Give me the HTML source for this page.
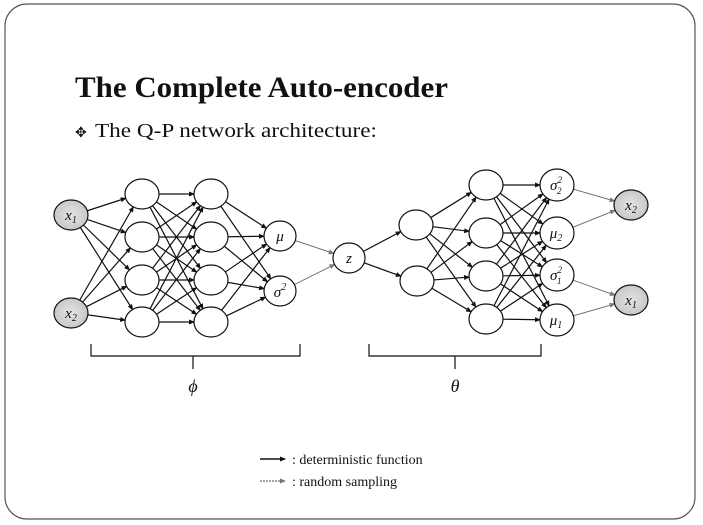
<!DOCTYPE html>
<html><head><meta charset="utf-8"><style>
html,body{margin:0;padding:0;background:#fff}
svg{display:block}
text{font-family:"Liberation Serif",serif;fill:#111}
</style></head><body>
<svg id="s" width="703" height="525" viewBox="0 0 703 525" xmlns="http://www.w3.org/2000/svg">
<defs>
<marker id="a" markerWidth="6" markerHeight="6" refX="5" refY="3" orient="auto" markerUnits="userSpaceOnUse"><path d="M0,0.5 L6,3 L0,5.5z" fill="#111"/></marker>
<marker id="b" markerWidth="6" markerHeight="6" refX="5" refY="3" orient="auto" markerUnits="userSpaceOnUse"><path d="M0,0.5 L6,3 L0,5.5z" fill="#777"/></marker>
<radialGradient id="g"><stop offset="0" stop-color="#e4e4e4"/><stop offset="1" stop-color="#c8c8c8"/></radialGradient>
</defs>
<rect x="5" y="4" width="690" height="515" rx="22" fill="none" stroke="#555" stroke-width="1.2"/>
<text x="75" y="97" font-size="30" font-weight="bold" textLength="373" lengthAdjust="spacingAndGlyphs">The Complete Auto-encoder</text>
<text x="75" y="137" font-size="14" fill="#555">✥</text>
<text x="95" y="137" font-size="20" textLength="282" lengthAdjust="spacingAndGlyphs">The Q-P network architecture:</text>
<g id="lines" stroke="#111" stroke-width="1.2" fill="none"></g>
<g id="nodes" stroke="#111" stroke-width="1.2"></g>
<g font-style="italic" font-size="15" text-anchor="middle">
<text x="71" y="220">x<tspan font-size="10" dy="3">1</tspan></text>
<text x="71" y="318">x<tspan font-size="10" dy="3">2</tspan></text>
<text x="280" y="241">μ</text>
<text x="280" y="297">σ<tspan font-size="10" dy="-7">2</tspan></text>
<text x="349" y="263">z</text>
<text x="556" y="190">σ<tspan font-size="9" dy="-7">2</tspan><tspan font-size="9" dx="-5" dy="11">2</tspan></text>
<text x="556" y="238">μ<tspan font-size="10" dy="3">2</tspan></text>
<text x="556" y="280">σ<tspan font-size="9" dy="-7">2</tspan><tspan font-size="9" dx="-5" dy="11">1</tspan></text>
<text x="556" y="325">μ<tspan font-size="10" dy="3">1</tspan></text>
<text x="631" y="210">x<tspan font-size="10" dy="3">2</tspan></text>
<text x="631" y="305">x<tspan font-size="10" dy="3">1</tspan></text>
<text x="193" y="392" font-size="18">ϕ</text>
<text x="455" y="392" font-size="18">θ</text>
</g>
<path d="M91,344 V356 H300 V344 M193,356 V369" stroke="#111" stroke-width="1.2" fill="none"/>
<path d="M369,344 V356 H541 V344 M455,356 V369" stroke="#111" stroke-width="1.2" fill="none"/>
<line x1="260" y1="459" x2="285" y2="459" stroke="#111" stroke-width="1.5" marker-end="url(#a)"/>
<line x1="260" y1="481" x2="285" y2="481" stroke="#444" stroke-width="1" stroke-dasharray="2,1" marker-end="url(#b)"/>
<text x="292" y="464" font-size="14">: deterministic function</text>
<text x="292" y="486" font-size="14">: random sampling</text>
</svg>
<script>
var NS="http://www.w3.org/2000/svg";
var L=document.getElementById("lines"),N=document.getElementById("nodes");
function node(x,y,rx,ry,shade){var e=document.createElementNS(NS,"ellipse");e.setAttribute("cx",x);e.setAttribute("cy",y);e.setAttribute("rx",rx);e.setAttribute("ry",ry);e.setAttribute("fill",shade?"url(#g)":"#fff");N.appendChild(e);return {x:x,y:y,rx:rx,ry:ry};}
function edge(a,b,dash){var dx=b.x-a.x,dy=b.y-a.y,d=Math.hypot(dx,dy);
 var x1=a.x+dx/d*a.rx,y1=a.y+dy/d*a.ry,x2=b.x-dx/d*b.rx,y2=b.y-dy/d*b.ry;
 var e=document.createElementNS(NS,"line");e.setAttribute("x1",x1);e.setAttribute("y1",y1);e.setAttribute("x2",x2);e.setAttribute("y2",y2);
 if(dash){e.setAttribute("stroke","#666");e.setAttribute("stroke-width","0.9");e.setAttribute("marker-end","url(#b)");}
 else e.setAttribute("marker-end","url(#a)");L.appendChild(e);}
var ys=[194,237,280,322];
var x1=node(71,215,17,15,1),x2=node(71,313,17,15,1);
var l1=ys.map(y=>node(142,y,17,15)),l2=ys.map(y=>node(211,y,17,15));
var mu=node(280,236,16,15),sg=node(280,291,16,15),z=node(349,258,16,15);
var d1=[node(416,225,17,15),node(417,281,17,15)];
var d2=[185,233,276,319].map(y=>node(486,y,17,15));
var o=[185,233,275,320].map(y=>node(557,y,17,16));
var ox2=node(631,205,17,15,1),ox1=node(631,300,17,15,1);
[x1,x2].forEach(a=>l1.forEach(b=>edge(a,b)));
l1.forEach(a=>l2.forEach(b=>edge(a,b)));
l2.forEach(a=>[mu,sg].forEach(b=>edge(a,b)));
edge(mu,z,1);edge(sg,z,1);
d1.forEach(b=>edge(z,b));
d1.forEach(a=>d2.forEach(b=>edge(a,b)));
d2.forEach(a=>o.forEach(b=>edge(a,b)));
edge(o[0],ox2,1);edge(o[1],ox2,1);edge(o[2],ox1,1);edge(o[3],ox1,1);
</script>
</body></html>
